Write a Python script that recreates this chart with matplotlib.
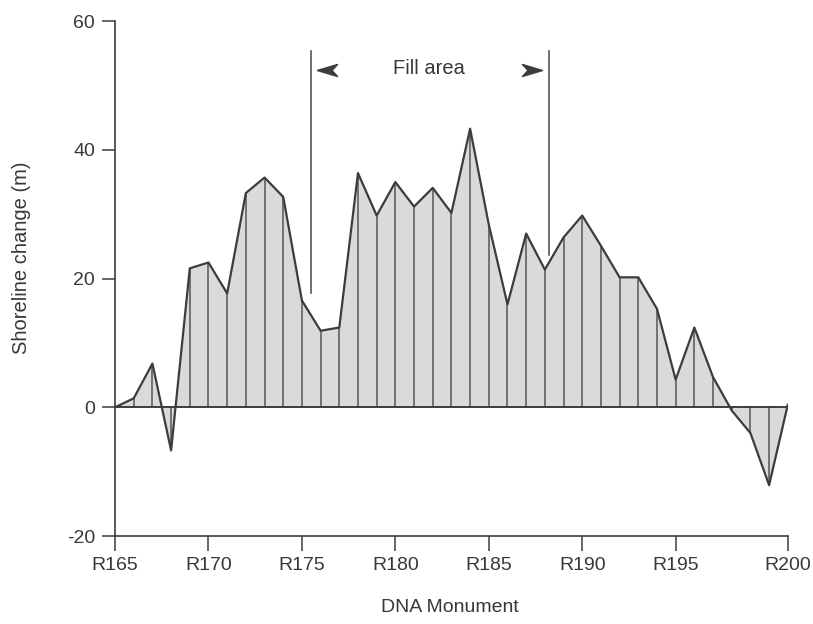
import matplotlib

matplotlib.use("Agg")
import matplotlib.pyplot as plt
import numpy as np
from matplotlib.path import Path


# monuments along the beach (one extra station between R197 and R198)
stations = [f"R{n}" for n in range(165, 198)] + ["R197A", "R198", "R199", "R200"]
shoreline_change = [
    0.0, 1.4, 6.8, -6.7, 21.6, 22.5, 17.7, 33.3, 35.7, 32.7,
    16.6, 11.9, 12.4, 36.4, 29.8, 35.0, 31.2, 34.1, 30.2, 43.3,
    28.4, 16.0, 27.0, 21.4, 26.4, 29.8, 25.1, 20.2, 20.2, 15.3,
    4.3, 12.4, 4.7, -0.5, -4.0, -12.1, 0.4,
]
tick_labels = ["R165", "R170", "R175", "R180", "R185", "R190", "R195", "R200"]
y_ticks = [-20, 0, 20, 40, 60]

# fill area markers: (position between stations, bottom of marker line)
fill_left = (10.5, 17.8)
fill_right = (23.2, 23.6)

INK = "#3c3c3c"
TEXT = "#383838"
FILL = "#dadada"

plt.rcParams["font.family"] = ["Liberation Sans", "DejaVu Sans"]
plt.rcParams["axes.unicode_minus"] = False

x = np.arange(len(stations))
y = np.array(shoreline_change)

fig = plt.figure(figsize=(8.13, 6.24), dpi=100)
ax = fig.add_axes([0.1415, 0.141, 0.8275, 0.825])

ax.fill_between(x, 0, y, color=FILL, linewidth=0)
ax.vlines(x, 0, y, color="#555555", linewidth=1.1)
ax.plot(x, y, color=INK, linewidth=1.6)
ax.axhline(0, color=INK, linewidth=1.4)

# fill area bracket with dart-shaped arrow heads
for pos, bottom in (fill_left, fill_right):
    ax.plot([pos, pos], [bottom, 55.3], color="#555555", linewidth=1.2)
dart_right = Path([(1, 0), (-1, 0.6), (-0.45, 0), (-1, -0.6), (1, 0)],
                  [Path.MOVETO, Path.LINETO, Path.LINETO, Path.LINETO, Path.CLOSEPOLY])
dart_left = Path([(-1, 0), (1, 0.6), (0.45, 0), (1, -0.6), (-1, 0)],
                 [Path.MOVETO, Path.LINETO, Path.LINETO, Path.LINETO, Path.CLOSEPOLY])
ax.plot([11.34], [52.4], marker=dart_left, markersize=14.5, color=INK, linestyle="none")
ax.plot([22.31], [52.4], marker=dart_right, markersize=14.5, color=INK, linestyle="none")
ax.text(16.8, 52.6, "Fill area", ha="center", va="center",
        fontsize=14.5, color=TEXT)

ax.set_xlim(0, len(stations) - 1)
ax.set_ylim(-20, 60)
ax.set_xticks([stations.index(t) for t in tick_labels])
ax.set_xticklabels(tick_labels)
ax.set_yticks(y_ticks)

for side in ("top", "right"):
    ax.spines[side].set_visible(False)
for side in ("left", "bottom"):
    ax.spines[side].set_color(INK)
    ax.spines[side].set_linewidth(1.2)

ax.tick_params(direction="out", width=1.1, color=INK,
               labelsize=14, labelcolor=TEXT)
ax.tick_params(axis="x", length=11, pad=4)
ax.tick_params(axis="y", length=9.5, pad=5)
ax.set_xlabel("DNA Monument", fontsize=14, color=TEXT)
ax.set_ylabel("Shoreline change (m)", fontsize=14.5, color=TEXT)
ax.xaxis.set_label_coords(0.498, -0.122)
ax.yaxis.set_label_coords(-0.125, 0.54)

fig.savefig("out.png", dpi=100)
